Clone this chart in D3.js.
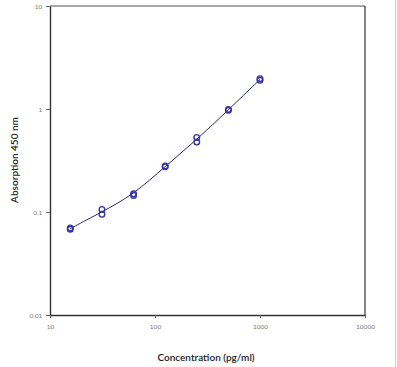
<!DOCTYPE html>
<html><head><meta charset="utf-8">
<script src="https://cdn.jsdelivr.net/npm/d3@7"></script>
<style>body{margin:0;background:#fff}svg{display:block}</style>
</head><body>
<svg id="c" width="397" height="367"></svg>
<script>
const concentrations = [15.6, 31.25, 62.5, 125, 250, 500, 1000];
const rep1 = [0.070, 0.106, 0.150, 0.280, 0.530, 0.990, 1.97];
const rep2 = [0.068, 0.095, 0.145, 0.275, 0.478, 0.970, 1.90];
const xTicks = [10, 100, 1000, 10000];
const yTicks = [0.01, 0.1, 1, 10];
const xTickLabels = ["10", "100", "1000", "10000"];
const yTickLabels = ["0.01", "0.1", "1", "10"];

const svg = d3.select("#c");
const L = 50, R = 365, T = 6, B = 315;
const x = d3.scaleLog().domain([10, 10000]).range([L, R]);
const y = d3.scaleLog().domain([0.01, 10]).range([B, T]);

svg.append("line").attr("x1", 395.5).attr("x2", 395.5).attr("y1", 0).attr("y2", 367)
  .attr("stroke", "#ccc").attr("stroke-width", 1);

svg.append("line").attr("x1", L).attr("x2", R).attr("y1", T).attr("y2", T).attr("stroke", "#555").attr("stroke-width", 1.2);
svg.append("line").attr("x1", R).attr("x2", R).attr("y1", T).attr("y2", B).attr("stroke", "#333").attr("stroke-width", 1.2);

const xAxis = svg.append("g").attr("transform", `translate(0,${B})`)
  .call(d3.axisBottom(x).tickValues(xTicks).tickFormat((d, i) => xTickLabels[i]).tickSize(3).tickSizeOuter(0));
const yAxis = svg.append("g").attr("transform", `translate(${L},0)`)
  .call(d3.axisLeft(y).tickValues(yTicks).tickFormat((d, i) => yTickLabels[i]).tickSize(4).tickSizeOuter(0));
[xAxis, yAxis].forEach(g => {
  g.select(".domain").attr("stroke", "#333").attr("stroke-width", 1.4);
  g.selectAll(".tick line").attr("stroke", "#666");
  g.selectAll(".tick text").attr("fill", "#777").style("font-family", "Lato, sans-serif").style("font-size", "6.5px");
});
xAxis.selectAll(".tick text").attr("dy", "1.2em");
yAxis.selectAll(".tick text").attr("dx", "-0.1em");

const means = concentrations.map((c, i) => ({c, v: Math.sqrt(rep1[i] * rep2[i])}));
const line = d3.line().x(d => x(d.c)).y(d => y(d.v)).curve(d3.curveBasis);
svg.append("path").datum(means).attr("d", line).attr("fill", "none")
  .attr("stroke", "#2a2a6a").attr("stroke-width", 1);

const pts = [];
concentrations.forEach((c, i) => { pts.push({c, v: rep1[i]}); pts.push({c, v: rep2[i]}); });
svg.append("g").selectAll("circle").data(pts).join("circle")
  .attr("cx", d => x(d.c)).attr("cy", d => y(d.v)).attr("r", 2.8)
  .attr("fill", "none").attr("stroke", "#3535a5").attr("stroke-width", 1.4);

svg.append("text").attr("x", 206).attr("y", 361).attr("text-anchor", "middle")
  .style("font-family", "Lato, sans-serif").style("font-size", "10px").style("font-weight", "600")
  .attr("fill", "#222").text("Concentration (pg/ml)");
svg.append("text").attr("transform", "translate(18,160) rotate(-90)").attr("text-anchor", "middle")
  .style("font-family", "Lato, sans-serif").style("font-size", "10px").style("font-weight", "600")
  .attr("fill", "#222").text("Absorption 450 nm");
</script>
</body></html>
